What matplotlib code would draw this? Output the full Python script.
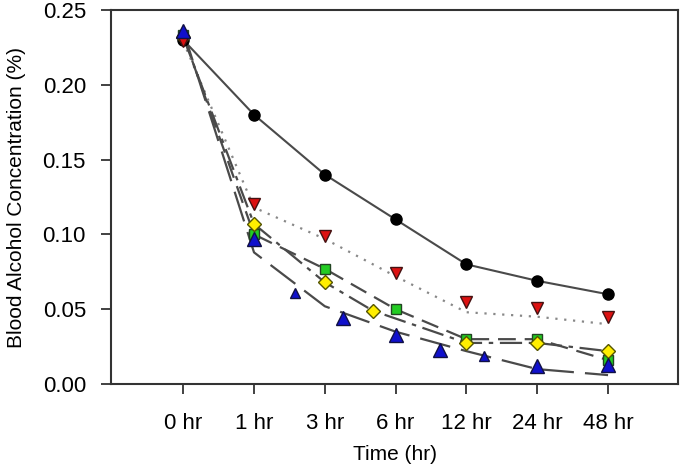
import numpy as np
import matplotlib.pyplot as plt

plt.rcParams['font.family'] = ['Liberation Sans', 'DejaVu Sans']

# categorias do eixo x
times = ['0 hr', '1 hr', '3 hr', '6 hr', '12 hr', '24 hr', '48 hr']
x_idx = np.arange(len(times))

# valores
black = [0.230, 0.180, 0.140, 0.110, 0.080, 0.069, 0.060]
red = [0.229, 0.120, 0.099, 0.074, 0.055, 0.051, 0.045]
red_fit = [0.229, 0.118, 0.097, 0.072, 0.048, 0.045, 0.040]
green = [0.233, 0.100, 0.077, 0.050, 0.030, 0.030, 0.016]
yellow_x = [0, 1, 2, 2.68, 4, 5, 6]
yellow = [0.232, 0.107, 0.068, 0.049, 0.0275, 0.0275, 0.022]
blue_x = [0, 1, 2.25, 3, 3.62, 5, 6]
blue = [0.236, 0.097, 0.044, 0.033, 0.023, 0.012, 0.013]
blue_small_x = [1.58, 4.25]
blue_small = [0.061, 0.019]
blue_fit = [0.236, 0.088, 0.052, 0.035, 0.022, 0.010, 0.006]

line_c = '#4a4a4a'

fig = plt.figure(figsize=(6.85, 4.73), dpi=100)
ax = fig.add_axes([0.162, 0.188, 0.828, 0.791])

# linhas
ax.plot(x_idx, black, color=line_c, lw=1.5, zorder=2)
ax.plot(x_idx, red_fit, color='#888888', lw=1.6, ls=(0, (1, 3)), zorder=2)
ax.plot(x_idx, green, color=line_c, lw=1.6, ls=(0, (8, 4)), zorder=2)
ax.plot(yellow_x, yellow, color=line_c, lw=1.6, ls=(0, (10, 3, 2, 3)), zorder=2)
ax.plot(x_idx, blue_fit, color=line_c, lw=1.6, ls=(0, (14, 5)), zorder=2)

# marcadores
ax.plot(x_idx, black, 'o', color='black', mec='black', ms=8, ls='none', zorder=5)
ax.plot(x_idx, green, 's', color='#22cc22', mec='#224422', ms=7, ls='none', zorder=4)
ax.plot(yellow_x, yellow, 'D', color='#ffee00', mec='#555500', ms=7, ls='none', zorder=5)
ax.plot(x_idx, red, 'v', color='#dd1111', mec='#441111', ms=9, ls='none', zorder=6)
ax.plot(blue_x, blue, '^', color='#1010cc', mec='#101044', ms=10, ls='none', zorder=6)
ax.plot(blue_small_x, blue_small, '^', color='#1010cc', mec='#101044', ms=7, ls='none', zorder=6)

ax.set_xlim(-1.02, 6.99)
ax.set_ylim(0, 0.25)
ax.set_xticks(x_idx)
ax.set_xticklabels(times)
ax.set_yticks([0, 0.05, 0.10, 0.15, 0.20, 0.25])
ax.set_yticklabels(['0.00', '0.05', '0.10', '0.15', '0.20', '0.25'])
ax.tick_params(axis='both', direction='out', length=7, width=1.3, labelsize=16, color='#333333')
ax.tick_params(axis='x', pad=14)
ax.tick_params(axis='y', pad=11)
for s in ax.spines.values():
    s.set_linewidth(1.5)
    s.set_color('#333333')

ax.set_xlabel('Time (hr)', fontsize=15, labelpad=8)
ax.set_ylabel('Blood Alcohol Concentration (%)', fontsize=15, labelpad=12)

fig.savefig('out.png', dpi=100)
